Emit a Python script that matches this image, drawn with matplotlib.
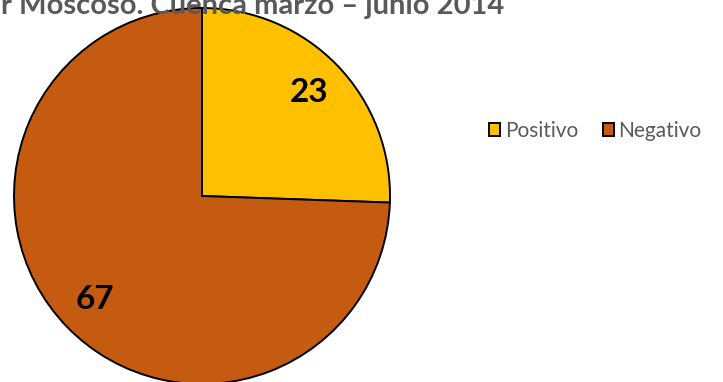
import matplotlib.pyplot as plt

plt.rcParams['font.family'] = ['Lato', 'DejaVu Sans']

categorias = ["Positivo", "Negativo"]
valores = [23, 67]
colores = ["#FFC000", "#C55A11"]
titulo = "r Moscoso. Cuenca marzo – junio 2014"

fig = plt.figure(figsize=(7.23, 3.82), dpi=100)

# pie area: centre at (202, 196) px, radius 188 px
W, H = 723, 382
cx, cy, r = 202, 196, 188
ax = fig.add_axes([(cx - r) / W, (H - cy - r) / H, 2 * r / W, 2 * r / H])

total = sum(valores)
wedges, textos, autotextos = ax.pie(
    valores, colors=colores, startangle=90, counterclock=False,
    wedgeprops=dict(edgecolor="black", linewidth=1.4),
    autopct=lambda p: f"{round(p * total / 100)}", pctdistance=0.79,
    textprops=dict(fontsize=24, fontweight="bold", color="black"))
ax.set_xlim(-1, 1)
ax.set_ylim(-1, 1)
ax.set_aspect("equal")

fig.text(253 / W, 1.0 - 14 / H, titulo, ha="center", va="baseline",
         fontsize=21, fontweight="bold", color="#595959")

fig.legend(wedges, categorias, loc="center left", bbox_to_anchor=(489 / W, 1 - 131 / H),
           ncol=2, frameon=False, fontsize=15, handlelength=0.55, handleheight=0.55,
           handletextpad=0.2, columnspacing=1.2, borderpad=0, borderaxespad=0,
           labelcolor="#595959")

fig.savefig("out.png", dpi=100)
